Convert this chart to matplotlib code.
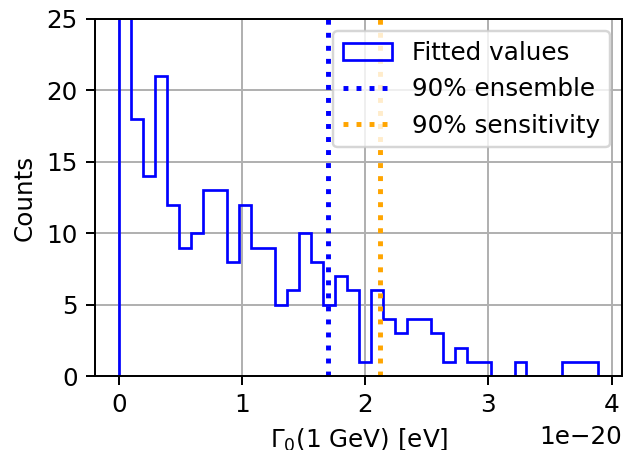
import numpy as np
import matplotlib
matplotlib.use("Agg")
import matplotlib.pyplot as plt

# Histogram counts per bin (first bin exceeds the y-range)
counts = [60, 18, 14, 21, 12, 9, 10, 13, 13, 8,
          12, 9, 9, 5, 6, 10, 8, 5, 7, 6,
          1, 6, 4, 3, 4, 4, 3, 1, 2, 1,
          1, 0, 0, 1, 0, 0, 0, 1, 1, 1]
x_min = 0.0
x_max = 3.893e-20
n_bins = 40
ensemble_90 = 1.694e-20
sensitivity_90 = 2.123e-20

DPI = 177
fig, ax = plt.subplots(figsize=(623 / DPI, 450 / DPI), dpi=DPI)
edges = np.linspace(x_min, x_max, n_bins + 1)
ax.hist(edges[:-1], bins=edges, weights=counts, histtype='step',
        color='blue', linewidth=1.1, label='Fitted values')
ax.axvline(ensemble_90, color='blue', linestyle=':', linewidth=2, label='90% ensemble')
ax.axvline(sensitivity_90, color='orange', linestyle=':', linewidth=2, label='90% sensitivity')
ax.set_ylim(0, 25)
ax.set_xlabel(r'$\Gamma_0$(1 GeV) [eV]')
ax.set_ylabel('Counts')
ax.grid(True)
ax.legend(loc='upper right')
fig.subplots_adjust(left=0.1525, right=0.999, top=0.958, bottom=0.164)
fig.savefig('out.png', dpi=DPI)
